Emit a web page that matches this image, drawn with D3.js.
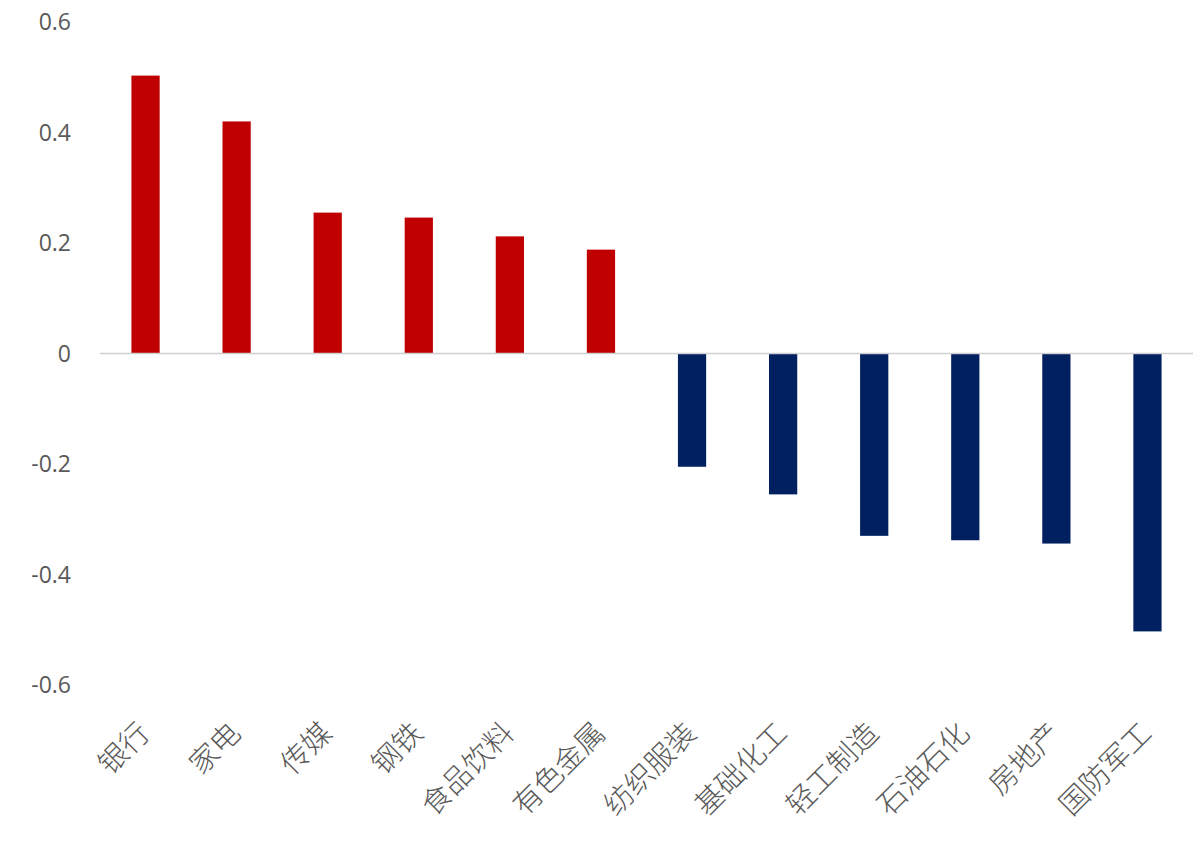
<!DOCTYPE html>
<html><head><meta charset="utf-8">
<script src="https://cdn.jsdelivr.net/npm/d3@7/dist/d3.min.js"></script>
<style>body{margin:0;background:#fff;}svg{display:block;}</style>
</head><body>
<svg id="c" width="1203" height="846"></svg>
<script>
const categories = ["银行","家电","传媒","钢铁","食品饮料","有色金属","纺织服装","基础化工","轻工制造","石油石化","房地产","国防军工"];
const values = [0.503, 0.42, 0.255, 0.246, 0.212, 0.188, -0.205, -0.255, -0.33, -0.338, -0.344, -0.503];
const yTicks = [-0.6, -0.4, -0.2, 0, 0.2, 0.4, 0.6];
const yTickLabels = ["-0.6", "-0.4", "-0.2", "0", "0.2", "0.4", "0.6"];

const svg = d3.select("#c");
const x = d3.scaleBand().domain(categories).range([100, 1193]).paddingInner(0.69).paddingOuter(0.345);
const y = d3.scaleLinear().domain([-0.6, 0.6]).range([685, 22]);

// y tick labels
svg.append("g").selectAll("text").data(yTicks).join("text")
  .attr("x", 71).attr("y", d => y(d)).attr("dy", "0.35em")
  .attr("text-anchor", "end")
  .attr("font-family", "'Open Sans', 'Noto Sans', sans-serif")
  .attr("font-size", 23).attr("fill", "#595959")
  .text((d, i) => yTickLabels[i]);

// bars
svg.append("g").selectAll("rect").data(values).join("rect")
  .attr("x", (d, i) => x(categories[i]))
  .attr("width", x.bandwidth())
  .attr("y", d => y(Math.max(0, d)))
  .attr("height", d => Math.abs(y(d) - y(0)))
  .attr("fill", d => d >= 0 ? "#C00000" : "#002060");

// zero line
svg.append("line").attr("x1", 100).attr("x2", 1193).attr("y1", y(0)).attr("y2", y(0))
  .attr("stroke", "#d0d0d0").attr("stroke-width", 1.5);

// category labels
svg.append("g").selectAll("text").data(categories).join("text")
  .attr("transform", d => `translate(${x(d) + x.bandwidth()/2 + 6},${735}) rotate(-45)`)
  .attr("text-anchor", "end")
  .attr("font-family", "'Noto Sans CJK SC', sans-serif")
  .attr("font-weight", 300)
  .attr("font-size", 29).attr("fill", "#595959")
  .text(d => d);
</script>
</body></html>
